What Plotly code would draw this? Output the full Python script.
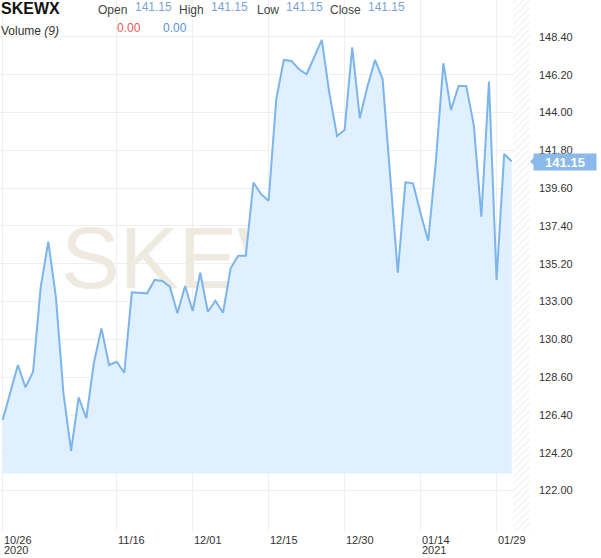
import plotly.graph_objects as go

# ---------------- data ----------------
dates = [
    "2020-10-26", "2020-10-27", "2020-10-28", "2020-10-29", "2020-10-30",
    "2020-11-02", "2020-11-03", "2020-11-04", "2020-11-05", "2020-11-06",
    "2020-11-09", "2020-11-10", "2020-11-11", "2020-11-12", "2020-11-13",
    "2020-11-16", "2020-11-17", "2020-11-18", "2020-11-19", "2020-11-20",
    "2020-11-23", "2020-11-24", "2020-11-25", "2020-11-27", "2020-11-30",
    "2020-12-01", "2020-12-02", "2020-12-03", "2020-12-04", "2020-12-07",
    "2020-12-08", "2020-12-09", "2020-12-10", "2020-12-11", "2020-12-14",
    "2020-12-15", "2020-12-16", "2020-12-17", "2020-12-18", "2020-12-21",
    "2020-12-22", "2020-12-23", "2020-12-24", "2020-12-28", "2020-12-29",
    "2020-12-30", "2020-12-31", "2021-01-04", "2021-01-05", "2021-01-06",
    "2021-01-07", "2021-01-08", "2021-01-11", "2021-01-12", "2021-01-13",
    "2021-01-14", "2021-01-15", "2021-01-19", "2021-01-20", "2021-01-21",
    "2021-01-22", "2021-01-25", "2021-01-26", "2021-01-27", "2021-01-28",
    "2021-01-29", "2021-02-01", "2021-02-02",
]
close = [
    126.11, 127.71, 129.31, 128.01, 128.92,
    133.83, 136.49, 133.28, 127.66, 124.32,
    127.43, 126.21, 129.44, 131.44, 129.31,
    129.50, 128.86, 133.54, 133.52, 133.48,
    134.26, 134.20, 133.87, 132.32, 133.91,
    132.45, 134.68, 132.41, 133.05, 132.35,
    134.94, 135.67, 135.67, 139.92, 139.26,
    138.87, 144.77, 147.06, 147.00, 146.52,
    146.23, 147.25, 148.23, 145.12, 142.64,
    142.99, 147.80, 143.67, 145.51, 147.06,
    145.95, 140.30, 134.68, 139.94, 139.88,
    138.14, 136.54, 141.10, 146.87, 144.15,
    145.55, 145.55, 143.28, 137.94, 145.80,
    134.26, 141.59, 141.15,
]
tick_dates = ["2020-10-26", "2020-11-16", "2020-12-01", "2020-12-15",
              "2020-12-30", "2021-01-14", "2021-01-29"]
tick_labels = ["10/26", "11/16", "12/01", "12/15", "12/30", "01/14", "01/29"]
tick_years = {"2020-10-26": "2020", "2021-01-14": "2021"}
y_ticks = [122.00, 124.20, 126.40, 128.60, 130.80, 133.00, 135.20,
           137.40, 139.60, 141.80, 144.00, 146.20, 148.40]
area_base = 123.0
symbol = "SKEWX"
ohlc = {"Open": 141.15, "High": 141.15, "Low": 141.15, "Close": 141.15}
volume_vals = [0.00, 0.00]

# ---------------- layout constants ----------------
W, H = 601, 558
ML, MR, MT, MB = 0, 71, 0, 27
PW, PH = W - ML - MR, H - MT - MB
x_range = [-0.355, 69.4]
y_range = [119.65, 150.55]

idx = list(range(len(dates)))
n = len(dates)

LINE = "#7cb5ec"
FILL = "#e1f0fe"
TAG = "#8bbaea"
FONT = "Liberation Sans, Arial, sans-serif"

fig = go.Figure()

# hatched "future" strip on the right
h0 = n - 1 + 0.15
fig.add_trace(go.Bar(
    x=[(h0 + x_range[1]) / 2], y=[y_range[1] - y_range[0]], base=[y_range[0]],
    width=[x_range[1] - h0],
    marker=dict(color="white", line=dict(width=0),
                pattern=dict(shape="/", fgcolor="#e4e4e4", bgcolor="white",
                             size=5, solidity=0.25)),
    hoverinfo="skip", showlegend=False))

# watermark (behind the area)
fig.add_trace(go.Scatter(
    x=[28.6], y=[135.1], mode="text", text=[symbol],
    textfont=dict(family=FONT, size=88, color="#eeeae0"),
    textposition="middle center", hoverinfo="skip", showlegend=False,
    cliponaxis=True))

# baseline + area
fig.add_trace(go.Scatter(x=idx, y=[area_base] * n, mode="lines",
                         line=dict(width=0, color=FILL), hoverinfo="skip",
                         showlegend=False))
fig.add_trace(go.Scatter(x=idx, y=close, mode="lines",
                         line=dict(color=LINE, width=2),
                         fill="tonexty", fillcolor=FILL, showlegend=False))

tick_idx = [dates.index(d) for d in tick_dates]

fig.update_layout(
    width=W, height=H,
    margin=dict(l=ML, r=MR, t=MT, b=MB, autoexpand=False),
    paper_bgcolor="white", plot_bgcolor="white",
    font=dict(family=FONT, size=11, color="#333"),
    bargap=0,
    xaxis=dict(range=x_range, tickvals=tick_idx, showticklabels=False,
               showgrid=True, gridcolor="#efefef", gridwidth=1,
               zeroline=False, showline=False, ticks="", automargin=False),
    yaxis=dict(range=y_range, side="right", tickvals=y_ticks,
               ticktext=[f"{v:.2f}" for v in y_ticks],
               showgrid=True, gridcolor="#efefef", gridwidth=1,
               zeroline=False, showline=False, ticks="",
               ticklabelstandoff=8, automargin=False,
               tickfont=dict(family=FONT, size=11, color="#333")),
)

# x tick labels (left aligned at gridline)
for d, lab, i in zip(tick_dates, tick_labels, tick_idx):
    fig.add_annotation(x=i, y=0, xref="x", yref="paper", text=lab,
                       showarrow=False, xanchor="left", yanchor="top",
                       yshift=-1, xshift=-1,
                       font=dict(family=FONT, size=11, color="#333"))
    if d in tick_years:
        fig.add_annotation(x=i, y=0, xref="x", yref="paper", text=tick_years[d],
                           showarrow=False, xanchor="left", yanchor="top",
                           yshift=-11, xshift=-1,
                           font=dict(family=FONT, size=11, color="#333"))


def px_x(p):
    return (p - ML) / PW


def px_y(p):
    return 1 - (p - MT) / PH


def label(text, x, y, size=12, color="#444", bold=False):
    fig.add_annotation(x=px_x(x), y=px_y(y), xref="paper", yref="paper",
                       text=f"<b>{text}</b>" if bold else text,
                       showarrow=False, xanchor="left", yanchor="middle",
                       font=dict(family=FONT, size=size, color=color))


# header
label(symbol, -1, 8, size=16, color="#111", bold=True)
VAL = "#7ba2d4"
pos = {"Open": (96, 133), "High": (177, 209), "Low": (255, 284), "Close": (328, 366)}
for k, v in ohlc.items():
    lx, vx = pos[k]
    label(k, lx, 10, color="#444")
    label(f"{v:.2f}", vx, 7, color=VAL)
label("Volume <i>(9)</i>", -1, 31, color="#333")
label(f"{volume_vals[0]:.2f}", 115, 28, color="#e05a55")
label(f"{volume_vals[1]:.2f}", 161, 28, color="#5a93e0")

# last price tag with small pointer
last = close[-1]
upp = (y_range[1] - y_range[0]) / PH  # value units per pixel
fig.add_shape(type="path", xref="paper", yref="y",
              path=(f"M {px_x(530)} {last} L {px_x(534)} {last + 4 * upp} "
                    f"L {px_x(534)} {last - 4 * upp} Z"),
              fillcolor=TAG, line=dict(width=0), layer="above")
fig.add_annotation(x=px_x(533), y=last, xref="paper", yref="y",
                   text=f"<b>{last:.2f}</b>", showarrow=False,
                   xanchor="left", yanchor="middle", width=60, height=14,
                   bgcolor=TAG, borderpad=1, align="center",
                   font=dict(family=FONT, size=13, color="white"))

fig.write_html(
    "out.html",
    config={"displayModeBar": False},
    post_script="document.body.style.margin='0';document.body.style.padding='0';",
)
